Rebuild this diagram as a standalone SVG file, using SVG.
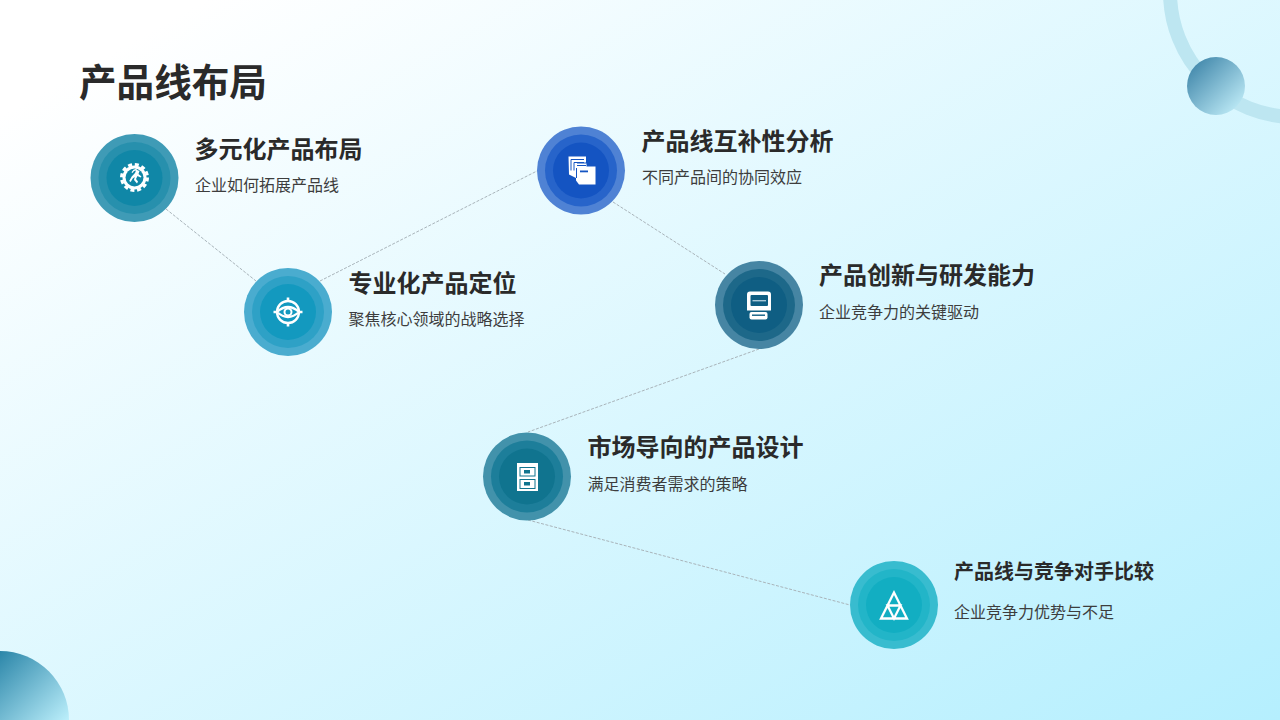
<svg xmlns="http://www.w3.org/2000/svg" width="1280" height="720" viewBox="0 0 1280 720">
<style>
text{font-family:"Noto Sans CJK SC","Noto Sans",sans-serif;fill:#2a2a2a}
.t{font-size:37.6px;font-weight:700}
.h{font-size:24px;font-weight:700}
.h2{font-size:20px;font-weight:700}
.s{font-size:16px;font-weight:400;fill:#3d3d3d}
.c line{stroke:#a9b4ba;stroke-width:1;stroke-dasharray:3 1.5}
.w{fill:#fff}
.o{fill:none;stroke:#fff}
</style>
<defs>
<linearGradient id="bg" x1="0" y1="0" x2="1" y2="1"><stop offset="0.08" stop-color="#ffffff"/><stop offset="1" stop-color="#b5effe"/></linearGradient>
<linearGradient id="b1" x1="0.1" y1="0.1" x2="0.9" y2="0.9"><stop offset="0" stop-color="#4288ab"/><stop offset="1" stop-color="#bdeaf6"/></linearGradient>
<linearGradient id="b2" gradientUnits="userSpaceOnUse" x1="0" y1="650" x2="70" y2="720"><stop offset="0" stop-color="#2a85a8"/><stop offset="1" stop-color="#bdf0fc"/></linearGradient>
</defs>
<rect width="1280" height="720" fill="url(#bg)"/>
<g id="decor">
<circle cx="1295" cy="-8" r="125" fill="none" stroke="#bde6f1" stroke-width="14"/>
<circle cx="1216" cy="86" r="29" fill="url(#b1)"/>
<circle cx="0" cy="720" r="69" fill="url(#b2)"/>
</g>
<text class="t" x="79" y="96">产品线布局</text>
<g class="c" id="connectors">
<line x1="166" y1="209" x2="256" y2="281"/>
<line x1="320" y1="281" x2="537" y2="171"/>
<line x1="613" y1="202" x2="725" y2="274"/>
<line x1="759" y1="349" x2="528" y2="432"/>
<line x1="528" y1="520" x2="850" y2="605"/>
</g>
<g id="node1">
<circle cx="134.5" cy="178" r="44" fill="#3f9bb6"/><circle cx="134.500" cy="178" r="36" fill="#2790ad"/><circle cx="134.500" cy="178" r="28" fill="#1087a7"/>
<circle class="w" cx="134.500" cy="177.500" r="12"/>
<circle class="o" cx="134.500" cy="177.500" r="13" stroke-width="3" stroke-dasharray="4 2.800"/>
<circle cx="134.500" cy="177.500" r="9" fill="#1087a7"/>
<path class="w" d="M137 170l2.500 1-1 3 3 2.500-1 1-3-1.500-1.500 3 2 2.500-1 2-3-3.500 .7-3-2 1.500-2 3.500-1.500-1 2.500-4.500 3.300-3.500 1-2.500-2 .5-1.500 2-1-.8 2-2.500 2.800-1z"/>
<text class="h" x="194.500" y="158">多元化产品布局</text>
<text class="s" x="195" y="191">企业如何拓展产品线</text>
</g>
<g id="node2">
<circle cx="288" cy="312" r="44" fill="#4aaccf"/><circle cx="288" cy="312" r="36" fill="#2ea1c6"/><circle cx="288" cy="312" r="28" fill="#1399bf"/>
<circle class="o" cx="288" cy="312" r="11" stroke-width="2.400"/>
<path fill="#1399bf" stroke="#fff" stroke-width="2.200" d="M277 312q11-10 22 0q-11 10-22 0z"/>
<circle class="o" cx="288" cy="312" r="3.500" stroke-width="2"/>
<path class="o" stroke-width="2.600" d="M288 297.500v4M288 322.500v4M273.500 312h3M299.500 312h3"/>
<text class="h" x="348.500" y="292">专业化产品定位</text>
<text class="s" x="348.500" y="325">聚焦核心领域的战略选择</text>
</g>
<g id="node3">
<circle cx="581" cy="170.500" r="44" fill="#4f82d4"/><circle cx="581" cy="170.500" r="36" fill="#2764ca"/><circle cx="581" cy="170.500" r="28" fill="#1454c2"/>
<path class="w" d="M568.500 156.500h17.500v6h-9v16l-8-4z"/>
<path fill="none" stroke="#1454c2" stroke-width="1" d="M571 159.500h13M574 162.500h10M571 159.500v11M574 162.500v8"/>
<path class="w" d="M576 163.500h10.500v3h9v18h-16.500l-3-4z"/>
<path fill="none" stroke="#1454c2" stroke-width="1" d="M577 165.500h9M576.500 168v10"/>
<rect x="580" y="170.500" width="8" height="1.800" fill="#1454c2"/>
<text class="h" x="641.500" y="150">产品线互补性分析</text>
<text class="s" x="642" y="183">不同产品间的协同效应</text>
</g>
<g id="node4">
<circle cx="759" cy="305" r="44" fill="#4685a3"/><circle cx="759" cy="305" r="36" fill="#1d6889"/><circle cx="759" cy="305" r="28" fill="#0f5e83"/>
<path class="w" d="M750 291.500h18q3 0 3 3v16h-24v-16q0-3 3-3z"/>
<rect x="750.500" y="295" width="17.500" height="11" rx="1" fill="#0f5e83"/>
<rect x="752.500" y="300" width="13.500" height="1.400" fill="#a8c8d8"/>
<rect x="749.500" y="312" width="18" height="7.500" rx="2" fill="#fff"/>
<rect x="752" y="314.500" width="13" height="1.400" fill="#0f5e83"/>
<text class="h" x="819" y="284">产品创新与研发能力</text>
<text class="s" x="819" y="318">企业竞争力的关键驱动</text>
</g>
<g id="node5">
<circle cx="527" cy="476.500" r="44" fill="#4292ab"/><circle cx="527" cy="476.500" r="36" fill="#1d7e9a"/><circle cx="527" cy="476.500" r="28" fill="#10748f"/>
<rect x="517" y="463" width="21" height="28" fill="#fff"/>
<rect x="519.500" y="467" width="16" height="9.500" fill="#10748f"/><rect x="520.500" y="468" width="14" height="7.500" fill="#fff"/>
<rect x="519.500" y="479" width="16" height="10" fill="#10748f"/><rect x="520.500" y="480" width="14" height="8" fill="#fff"/>
<rect x="524" y="470" width="6" height="3.500" fill="#10748f"/><rect x="524" y="482" width="6" height="3.500" fill="#10748f"/>
<text class="h" x="587.500" y="456">市场导向的产品设计</text>
<text class="s" x="587.500" y="490">满足消费者需求的策略</text>
</g>
<g id="node6">
<circle cx="894" cy="605" r="44" fill="#38bccf"/><circle cx="894" cy="605" r="36" fill="#22b5c8"/><circle cx="894" cy="605" r="28" fill="#12aec2"/>
<path class="o" stroke-width="2.300" stroke-linejoin="miter" d="M894 592.500l-13 26h26zM887.500 605.500h13l-6.500 13z"/>
<text class="h2" x="954" y="579">产品线与竞争对手比较</text>
<text class="s" x="954" y="618">企业竞争力优势与不足</text>
</g>
</svg>
